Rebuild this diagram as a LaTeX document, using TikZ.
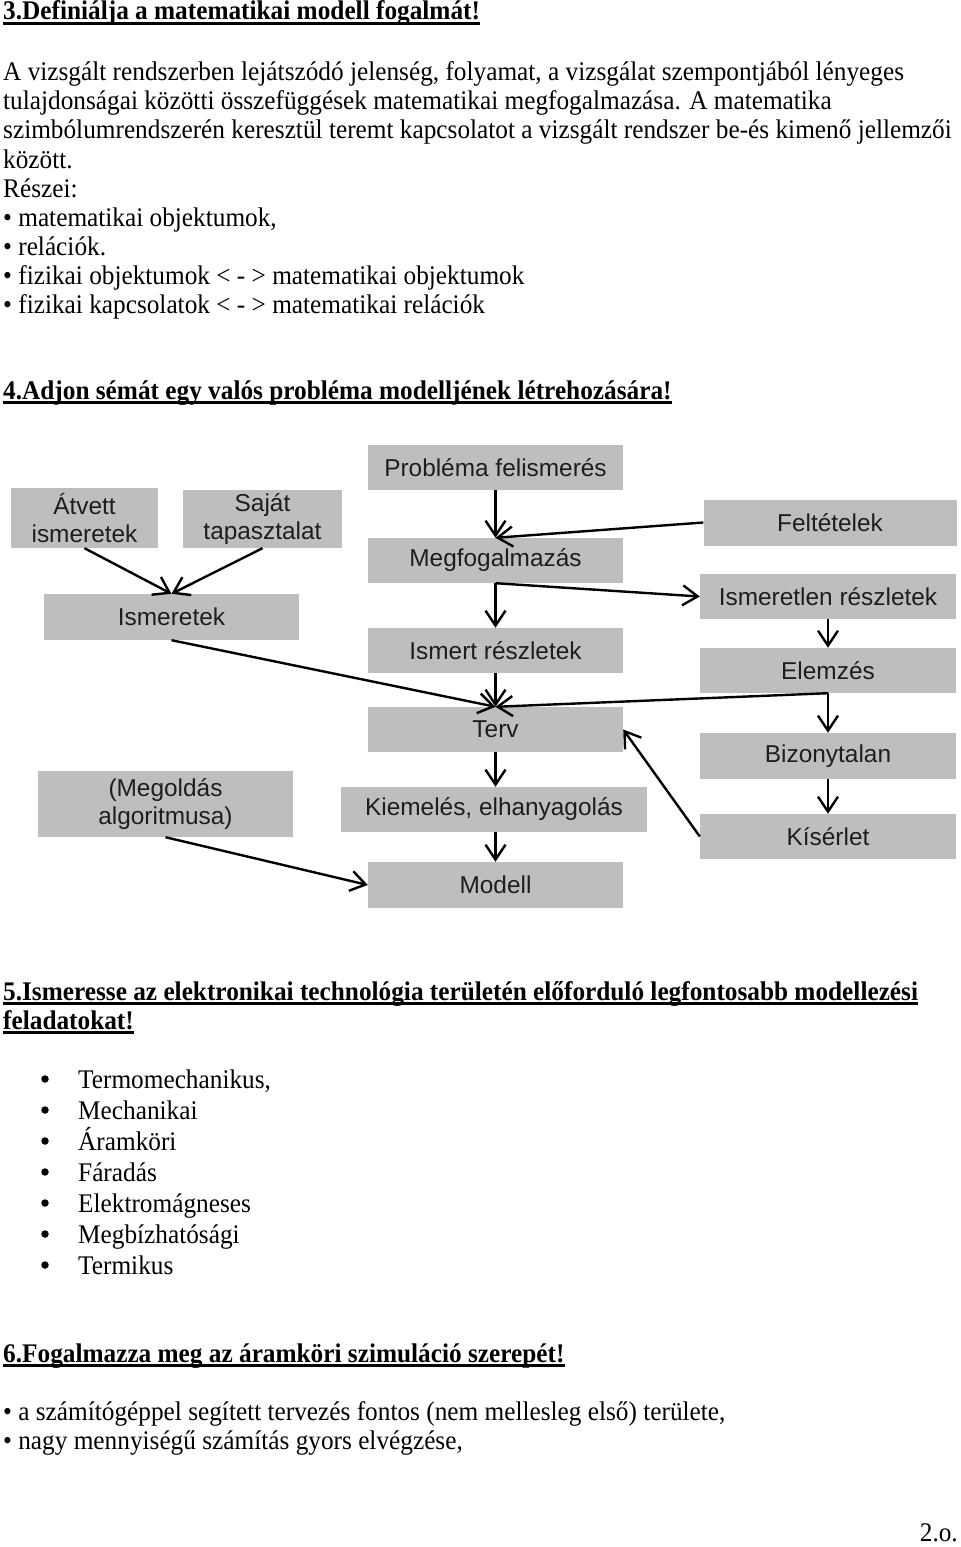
\documentclass[tikz,border=0pt]{standalone}
\usepackage{fontspec}
\setmainfont[FakeStretch=0.94]{Liberation Serif}
\newfontfamily\boxfont{Liberation Sans}
\usetikzlibrary{arrows.meta}
\definecolor{boxgray}{HTML}{BEBEBE}
\definecolor{boxtext}{HTML}{1E1E1E}
\tikzset{
  txt/.style={inner sep=0pt, anchor=base west, font=\fontsize{27}{29}\selectfont},
  head/.style={txt, font=\fontsize{27}{29}\selectfont\bfseries},
  ul/.style={line width=2.8bp},
  gbox/.style={fill=boxgray, draw=none, inner sep=0pt, text=boxtext, align=center,
    font=\boxfont\fontsize{24.5}{29}\selectfont},
  arr/.style={line width=2.4bp, -{Straight Barb[length=15bp,width=20bp,line width=2.4bp]}},
  bul/.style={circle, fill=black, inner sep=0pt, minimum size=7.5bp}
}
\begin{document}
\begin{tikzpicture}[x=1bp,y=-1bp]
\useasboundingbox (0,0) rectangle (960,1547);
% ---- Section 3
\node[head] (h3) at (3,20) {3.Definiálja a matematikai modell fogalmát!};
\draw[ul] ([yshift=-3.5bp]h3.base west) -- ([yshift=-3.5bp]h3.base east);
\node[txt] (l1) at (3,81) {A vizsgált rendszerben lejátszódó jelenség, folyamat, a vizsgálat szempontjából lényeges};
\node[txt] (l2) at (3,110) {tulajdonságai közötti összefüggések matematikai megfogalmazása. A matematika};
\node[txt] (l3) at (3,139) {szimbólumrendszerén keresztül teremt kapcsolatot a vizsgált rendszer be-és kimenő jellemzői};
\node[txt] (l4) at (3,168) {között.};
\node[txt] (l5) at (3,197) {Részei:};
\node[txt] (l6) at (3,226) {• matematikai objektumok,};
\node[txt] (l7) at (3,255) {• relációk.};
\node[txt] (l8) at (3,284) {• fizikai objektumok < - > matematikai objektumok};
\node[txt] (l9) at (3,313) {• fizikai kapcsolatok < - > matematikai relációk};
% ---- Section 4
\node[head] (h4) at (3,399) {4.Adjon sémát egy valós probléma modelljének létrehozására!};
\draw[ul] ([yshift=-3.5bp]h4.base west) -- ([yshift=-3.5bp]h4.base east);
% diagram boxes
\node[gbox, minimum width=255bp, minimum height=45bp] (prob) at (495.5,467.5) {Probléma felismerés};
\node[gbox, minimum width=147bp, minimum height=60bp] (atv) at (84.5,518) {Átvett\\ismeretek};
\node[gbox, minimum width=159bp, minimum height=58bp] (saj) at (262.5,519) {Saját\\tapasztalat};
\node[gbox, minimum width=253bp, minimum height=46bp] (felt) at (830,522.5) {Feltételek};
\node[gbox, minimum width=255bp, minimum height=45bp] (megf) at (495.5,560.5) {Megfogalmazás};
\node[gbox, minimum width=256bp, minimum height=45bp] (isml) at (828,596.5) {Ismeretlen részletek};
\node[gbox, minimum width=255bp, minimum height=46bp] (ism) at (171.5,617) {Ismeretek};
\node[gbox, minimum width=255bp, minimum height=45bp] (ismr) at (495.5,650.5) {Ismert részletek};
\node[gbox, minimum width=256bp, minimum height=45bp] (elem) at (828,670.5) {Elemzés};
\node[gbox, minimum width=255bp, minimum height=45bp] (terv) at (495.5,729.5) {Terv};
\node[gbox, minimum width=256bp, minimum height=46bp] (biz) at (828,756) {Bizonytalan};
\node[gbox, minimum width=255bp, minimum height=66bp] (megold) at (165.5,804) {(Megoldás\\algoritmusa)};
\node[gbox, minimum width=306bp, minimum height=45bp] (kiem) at (494,809.5) {Kiemelés, elhanyagolás};
\node[gbox, minimum width=256bp, minimum height=45bp] (kis) at (828,836.5) {Kísérlet};
\node[gbox, minimum width=255bp, minimum height=46bp] (mod) at (495.5,885) {Modell};
% connectors
\draw[arr] (prob.south) -- (megf.north);
\draw[arr] (atv.south) -- (ism.north);
\draw[arr] (saj.south) -- (ism.north);
\draw[arr] (felt.west) -- (megf.north);
\draw[arr] (megf.south) -- (ismr.north);
\draw[arr] (megf.south) -- (isml.west);
\draw[arr] (isml.south) -- (elem.north);
\draw[arr] (ism.south) -- (terv.north);
\draw[arr] (ismr.south) -- (terv.north);
\draw[arr] (elem.south) -- (terv.north);
\draw[arr] (elem.south) -- (biz.north);
\draw[arr] (terv.south) -- (terv.south |- kiem.north);
\draw[arr] (biz.south) -- (kis.north);
\draw[arr] (kis.west) -- (terv.east);
\draw[arr] (kiem.south -| mod.north) -- (mod.north);
\draw[arr] (megold.south) -- (mod.west);
% ---- Section 5
\node[head] (h5a) at (3,1000) {5.Ismeresse az elektronikai technológia területén előforduló legfontosabb modellezési};
\draw[ul] ([yshift=-3.5bp]h5a.base west) -- ([yshift=-3.5bp]h5a.base east);
\node[head] (h5b) at (3,1029) {feladatokat!};
\draw[ul] ([yshift=-3.5bp]h5b.base west) -- ([yshift=-3.5bp]h5b.base east);
\node[bul] (k1) at (45,1079) {}; \node[txt] (t1) at (78,1088) {Termomechanikus,};
\node[bul] (k2) at (45,1110) {}; \node[txt] (t2) at (78,1119) {Mechanikai};
\node[bul] (k3) at (45,1141) {}; \node[txt] (t3) at (78,1150) {Áramköri};
\node[bul] (k4) at (45,1172) {}; \node[txt] (t4) at (78,1181) {Fáradás};
\node[bul] (k5) at (45,1203) {}; \node[txt] (t5) at (78,1212) {Elektromágneses};
\node[bul] (k6) at (45,1234) {}; \node[txt] (t6) at (78,1243) {Megbízhatósági};
\node[bul] (k7) at (45,1265) {}; \node[txt] (t7) at (78,1274) {Termikus};
% ---- Section 6
\node[head] (h6) at (3,1362) {6.Fogalmazza meg az áramköri szimuláció szerepét!};
\draw[ul] ([yshift=-3.5bp]h6.base west) -- ([yshift=-3.5bp]h6.base east);
\node[txt] (s1) at (3,1420) {• a számítógéppel segített tervezés fontos (nem mellesleg első) területe,};
\node[txt] (s2) at (3,1449) {• nagy mennyiségű számítás gyors elvégzése,};
\node[txt, anchor=base east] (pg) at (958,1541) {2.o.};
\end{tikzpicture}
\end{document}
